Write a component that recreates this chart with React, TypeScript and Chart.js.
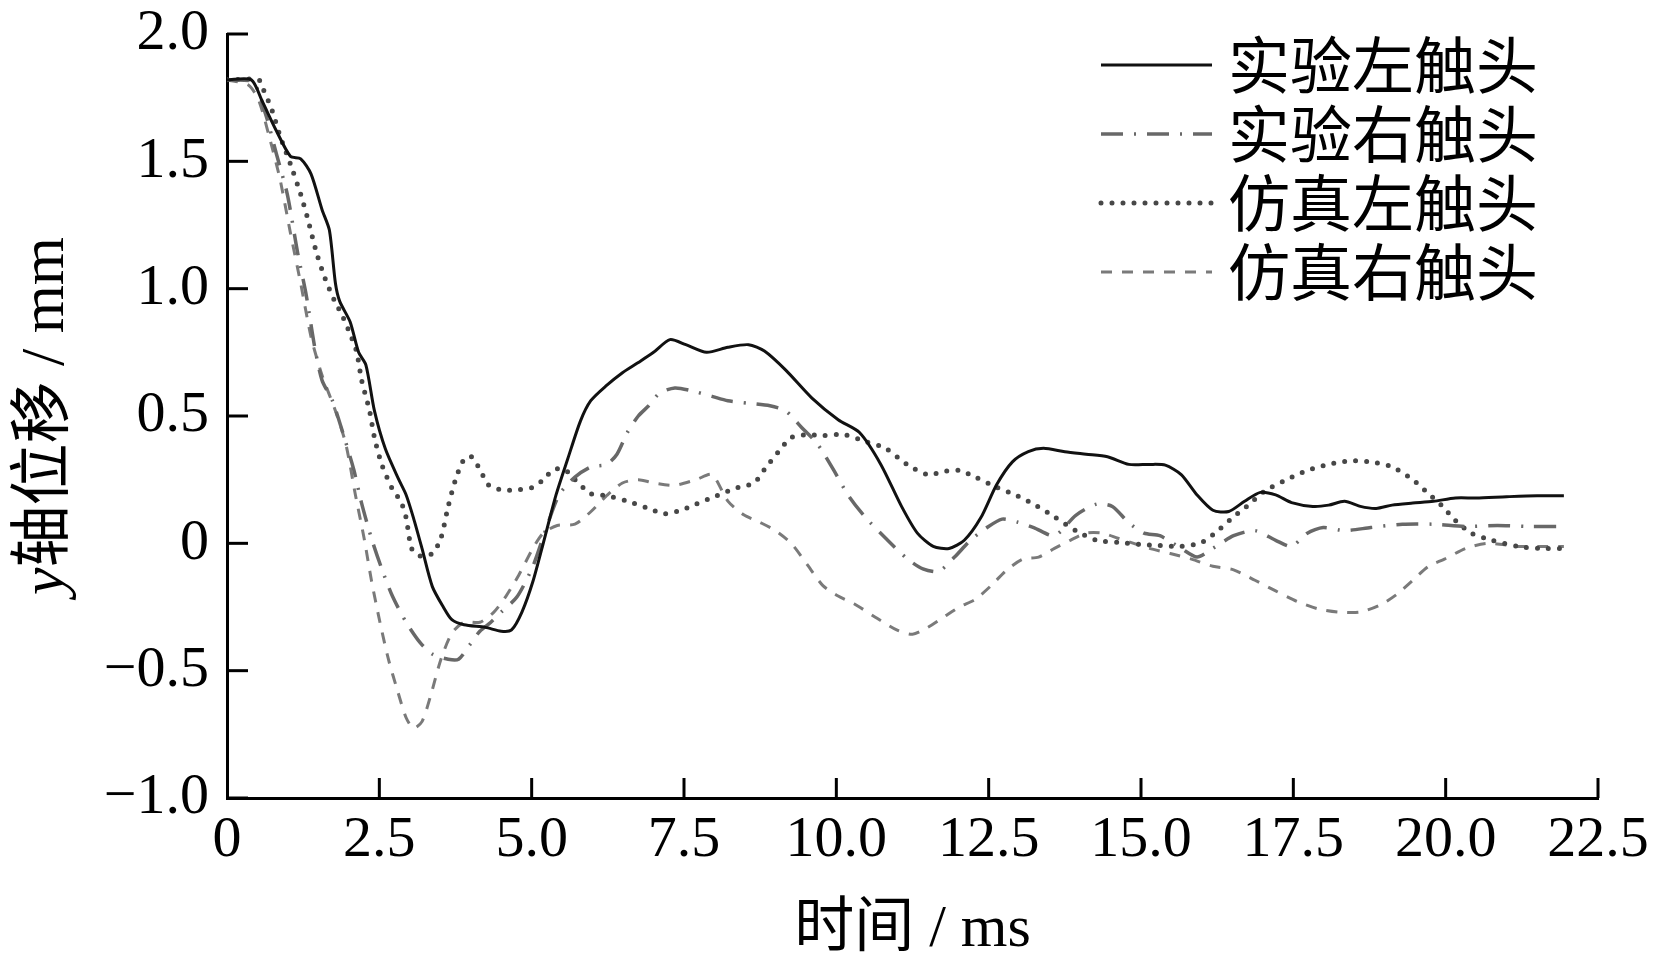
import React, { useEffect, useRef } from 'react';
import { Chart, registerables } from 'chart.js';
import type { ChartConfiguration, Plugin } from 'chart.js';

Chart.register(...registerables);

// 时间 (ms) / y轴位移 (mm)
const seriesLabels = ['实验左触头', '实验右触头', '仿真左触头', '仿真右触头'];

const expLeftT = [0, 0.4, 0.57, 0.81, 1.04, 1.21, 1.38, 1.56, 1.68, 1.78, 1.85, 2.02, 2.16, 2.28, 2.42, 2.6, 2.82, 2.94, 3.06, 3.2, 3.37, 3.55, 3.69, 3.89, 4.24, 4.5, 4.67, 4.84, 5.02, 5.19, 5.4, 5.59, 5.8, 5.97, 6.23, 6.49, 6.75, 7.0, 7.27, 7.53, 7.87, 8.22, 8.56, 8.82, 9.17, 9.6, 10.03, 10.38, 10.73, 11.07, 11.33, 11.59, 11.85, 12.1, 12.37, 12.63, 12.89, 13.15, 13.4, 13.75, 14.1, 14.45, 14.8, 15.14, 15.4, 15.66, 15.92, 16.18, 16.44, 16.7, 16.96, 17.21, 17.47, 17.82, 18.08, 18.34, 18.6, 18.86, 19.12, 19.46, 19.8, 20.16, 20.5, 21.0, 21.5, 21.94];
const expLeftY = [1.82, 1.82, 1.74, 1.62, 1.52, 1.51, 1.45, 1.31, 1.23, 1.02, 0.95, 0.87, 0.75, 0.7, 0.52, 0.37, 0.25, 0.19, 0.1, -0.02, -0.17, -0.25, -0.3, -0.32, -0.33, -0.345, -0.34, -0.27, -0.15, 0, 0.19, 0.33, 0.48, 0.56, 0.62, 0.67, 0.71, 0.75, 0.8, 0.78, 0.75, 0.77, 0.78, 0.755, 0.68, 0.57, 0.485, 0.435, 0.31, 0.145, 0.04, -0.012, -0.02, 0.012, 0.1, 0.23, 0.32, 0.36, 0.373, 0.36, 0.35, 0.34, 0.31, 0.31, 0.307, 0.27, 0.19, 0.13, 0.125, 0.165, 0.2, 0.19, 0.16, 0.145, 0.15, 0.165, 0.145, 0.137, 0.15, 0.158, 0.165, 0.178, 0.178, 0.183, 0.187, 0.187];

const expRightT = [0, 0.43, 0.64, 0.81, 0.99, 1.16, 1.3, 1.44, 1.56, 1.73, 1.9, 2.08, 2.2, 2.37, 2.54, 2.72, 2.94, 3.17, 3.37, 3.63, 3.8, 3.98, 4.15, 4.33, 4.5, 4.76, 5.02, 5.24, 5.45, 5.71, 5.97, 6.23, 6.4, 6.57, 6.75, 6.92, 7.1, 7.35, 7.61, 7.96, 8.22, 8.56, 8.91, 9.17, 9.43, 9.69, 9.95, 10.2, 10.47, 10.81, 11.16, 11.42, 11.68, 11.94, 12.2, 12.46, 12.72, 12.98, 13.24, 13.58, 13.93, 14.27, 14.53, 14.79, 15.05, 15.31, 15.66, 15.92, 16.18, 16.52, 16.87, 17.21, 17.47, 17.73, 17.99, 18.34, 18.77, 19.29, 19.8, 20.33, 20.85, 21.37, 21.94];
const expRightY = [1.82, 1.81, 1.68, 1.53, 1.37, 1.14, 0.975, 0.77, 0.64, 0.56, 0.435, 0.29, 0.166, 0.02, -0.1, -0.21, -0.31, -0.39, -0.435, -0.455, -0.455, -0.4, -0.345, -0.31, -0.27, -0.21, -0.09, 0.06, 0.19, 0.26, 0.3, 0.31, 0.35, 0.435, 0.5, 0.54, 0.59, 0.61, 0.6, 0.577, 0.56, 0.55, 0.54, 0.52, 0.455, 0.39, 0.29, 0.187, 0.104, 0.02, -0.06, -0.1, -0.11, -0.054, 0.012, 0.06, 0.095, 0.083, 0.062, 0.03, 0.11, 0.154, 0.145, 0.083, 0.04, 0.03, -0.02, -0.054, -0.02, 0.03, 0.05, 0.012, -0.012, 0.04, 0.062, 0.05, 0.062, 0.075, 0.075, 0.066, 0.07, 0.066, 0.066];

const simLeftT = [0, 0.52, 0.6, 0.74, 0.87, 1.04, 1.21, 1.33, 1.47, 1.61, 1.76, 1.9, 2.04, 2.13, 2.21, 2.34, 2.42, 2.54, 2.72, 2.85, 2.94, 3.03, 3.17, 3.37, 3.51, 3.63, 3.75, 3.89, 4.01, 4.15, 4.29, 4.5, 4.76, 5.02, 5.19, 5.36, 5.54, 5.71, 5.97, 6.23, 6.57, 6.92, 7.18, 7.44, 7.7, 8.04, 8.39, 8.65, 8.82, 9.05, 9.26, 9.52, 9.78, 10.12, 10.47, 10.81, 11.16, 11.5, 11.76, 12.02, 12.28, 12.63, 12.89, 13.24, 13.58, 13.93, 14.27, 14.62, 14.97, 15.31, 15.66, 16.0, 16.26, 16.52, 16.78, 17.04, 17.39, 17.73, 18.08, 18.43, 18.77, 19.12, 19.46, 19.72, 19.95, 20.16, 20.42, 20.76, 21.19, 21.54, 21.94];
const simLeftY = [1.82, 1.82, 1.78, 1.7, 1.6, 1.49, 1.37, 1.27, 1.14, 1.04, 0.955, 0.89, 0.81, 0.75, 0.64, 0.52, 0.415, 0.31, 0.21, 0.166, 0.1, -0.02, -0.05, -0.04, 0.02, 0.145, 0.25, 0.33, 0.34, 0.29, 0.23, 0.21, 0.21, 0.22, 0.25, 0.29, 0.29, 0.25, 0.195, 0.187, 0.166, 0.137, 0.116, 0.129, 0.154, 0.187, 0.22, 0.237, 0.29, 0.36, 0.415, 0.427, 0.423, 0.427, 0.4, 0.373, 0.31, 0.27, 0.282, 0.286, 0.26, 0.22, 0.195, 0.154, 0.104, 0.05, 0.012, 0.004, -0.004, -0.008, -0.012, 0.004, 0.05, 0.104, 0.154, 0.207, 0.25, 0.286, 0.31, 0.324, 0.32, 0.3, 0.25, 0.195, 0.145, 0.09, 0.04, 0.012, -0.012, -0.02, -0.02];

const simRightT = [0, 0.35, 0.52, 0.69, 0.87, 1.04, 1.21, 1.38, 1.56, 1.78, 1.95, 2.11, 2.25, 2.37, 2.51, 2.65, 2.8, 2.94, 3.06, 3.2, 3.34, 3.51, 3.69, 3.89, 4.15, 4.38, 4.58, 4.79, 5.02, 5.19, 5.42, 5.71, 5.97, 6.23, 6.49, 6.75, 7.0, 7.35, 7.7, 7.96, 8.22, 8.48, 8.74, 9.0, 9.26, 9.52, 9.78, 10.03, 10.29, 10.64, 10.99, 11.25, 11.5, 11.76, 12.02, 12.28, 12.54, 12.8, 13.06, 13.32, 13.58, 13.84, 14.1, 14.36, 14.62, 14.88, 15.14, 15.48, 15.83, 16.18, 16.52, 16.87, 17.21, 17.56, 17.9, 18.25, 18.6, 18.94, 19.2, 19.46, 19.72, 19.98, 20.33, 20.68, 21.19, 21.54, 21.94];
const simRightY = [1.82, 1.8, 1.74, 1.6, 1.43, 1.22, 1.02, 0.81, 0.66, 0.52, 0.39, 0.187, 0.02, -0.145, -0.31, -0.456, -0.58, -0.685, -0.726, -0.7, -0.6, -0.456, -0.353, -0.31, -0.31, -0.27, -0.207, -0.124, -0.02, 0.04, 0.07, 0.075, 0.124, 0.187, 0.237, 0.25, 0.237, 0.228, 0.25, 0.27, 0.166, 0.112, 0.083, 0.05, 0.0, -0.083, -0.166, -0.207, -0.237, -0.29, -0.34, -0.357, -0.33, -0.29, -0.25, -0.22, -0.166, -0.104, -0.062, -0.054, -0.02, 0.012, 0.04, 0.04, 0.02, 0.0, -0.02, -0.04, -0.062, -0.09, -0.104, -0.145, -0.187, -0.228, -0.257, -0.27, -0.27, -0.24, -0.2, -0.145, -0.09, -0.062, -0.02, 0.0, -0.012, -0.012, -0.012];

const SERIF = '"Liberation Serif", "Times New Roman", serif';
const MIXED = '"Liberation Serif", "Noto Sans CJK SC", serif';
const CJK = '"Noto Sans CJK SC", sans-serif';

const lineStyles = [
  { color: '#111111', dash: [] as number[], width: 3, cap: 'butt' as CanvasLineCap },
  { color: '#686868', dash: [22, 11, 2, 11], width: 3.5, cap: 'butt' as CanvasLineCap },
  { color: '#474747', dash: [0, 11], width: 5, cap: 'round' as CanvasLineCap },
  { color: '#7a7a7a', dash: [11, 10], width: 3, cap: 'butt' as CanvasLineCap },
];

const seriesT = [expLeftT, expRightT, simLeftT, simRightT];
const seriesY = [expLeftY, expRightY, simLeftY, simRightY];

const fmt = (v: number) => (v === 0 ? '0' : (v < 0 ? '\u2212' : '') + Math.abs(v).toFixed(1));

// inward ticks, axis titles and the legend box in the upper right
const decorPlugin: Plugin<'line'> = {
  id: 'decor',
  afterDraw(chart) {
    const { ctx, chartArea } = chart;
    const xs = chart.scales.x;
    const ys = chart.scales.y;
    ctx.save();
    ctx.strokeStyle = '#000';
    ctx.lineWidth = 3;
    ys.ticks.forEach((t) => {
      const py = ys.getPixelForValue(t.value);
      ctx.beginPath();
      ctx.moveTo(chartArea.left, py);
      ctx.lineTo(chartArea.left + 21, py);
      ctx.stroke();
    });
    xs.ticks.forEach((t) => {
      if (t.value === 0) return;
      const px = xs.getPixelForValue(t.value);
      ctx.beginPath();
      ctx.moveTo(px, chartArea.bottom);
      ctx.lineTo(px, chartArea.bottom - 20);
      ctx.stroke();
    });

    ctx.fillStyle = '#000';
    ctx.textBaseline = 'alphabetic';
    ctx.textAlign = 'center';
    ctx.font = `60px ${MIXED}`;
    ctx.fillText('时间 / ms', (chartArea.left + chartArea.right) / 2, 946);

    // y title with italic y
    const parts = [
      { text: 'y', font: `italic 62px ${SERIF}` },
      { text: '轴位移', font: `62px ${CJK}` },
      { text: ' / mm', font: `62px ${SERIF}` },
    ];
    let total = 0;
    const widths = parts.map((p) => {
      ctx.font = p.font;
      const w = ctx.measureText(p.text).width;
      total += w;
      return w;
    });
    ctx.save();
    ctx.translate(63, (chartArea.top + chartArea.bottom) / 2);
    ctx.rotate(-Math.PI / 2);
    ctx.textAlign = 'left';
    let cx = -total / 2;
    parts.forEach((p, i) => {
      ctx.font = p.font;
      ctx.fillText(p.text, cx, 0);
      cx += widths[i];
    });
    ctx.restore();

    // legend
    chart.data.datasets.forEach((ds: any, i) => {
      const y = 65 + i * 69;
      ctx.save();
      ctx.strokeStyle = ds.borderColor;
      ctx.lineWidth = ds.borderWidth;
      ctx.lineCap = ds.borderCapStyle;
      ctx.setLineDash(ds.borderDash);
      ctx.beginPath();
      ctx.moveTo(1101, y);
      ctx.lineTo(1212, y);
      ctx.stroke();
      ctx.restore();
      ctx.fillStyle = '#000';
      ctx.font = `62px ${CJK}`;
      ctx.textAlign = 'left';
      ctx.textBaseline = 'middle';
      ctx.fillText(ds.label, 1228, y);
    });
    ctx.restore();
  },
};

const App: React.FC = () => {
  const canvasRef = useRef<HTMLCanvasElement | null>(null);
  const chartRef = useRef<Chart<'line', { x: number; y: number }[], unknown> | null>(null);

  useEffect(() => {
    const canvas = canvasRef.current;
    if (!canvas) return;
    const ctx = canvas.getContext('2d');
    if (!ctx) return;

    const datasets = seriesLabels.map((label, i) => ({
      label,
      data: seriesT[i].map((t, k) => ({ x: t, y: seriesY[i][k] })),
      borderColor: lineStyles[i].color,
      backgroundColor: lineStyles[i].color,
      borderWidth: lineStyles[i].width,
      borderDash: lineStyles[i].dash,
      borderCapStyle: lineStyles[i].cap,
      borderJoinStyle: 'round' as CanvasLineJoin,
      pointRadius: 0,
      tension: 0.25,
      fill: false,
    }));

    const tickFont = { family: SERIF, size: 58, lineHeight: 1 };

    const config: ChartConfiguration<'line', { x: number; y: number }[], unknown> = {
      type: 'line',
      data: { datasets },
      options: {
        animation: false,
        responsive: true,
        maintainAspectRatio: false,
        layout: { padding: { top: 34, right: 55, left: 0, bottom: 0 } },
        plugins: { legend: { display: false }, tooltip: { enabled: false } },
        scales: {
          x: {
            type: 'linear',
            min: 0,
            max: 22.5,
            ticks: { stepSize: 2.5, font: tickFont, color: '#000', padding: 14, maxRotation: 0, autoSkip: false, callback: (v) => fmt(Number(v)) },
            grid: { display: false, drawTicks: false },
            border: { display: true, color: '#000', width: 3 },
            afterFit: (s: any) => {
              s.height = 173;
              s.paddingLeft = 0;
              s.paddingRight = 0;
            },
          },
          y: {
            type: 'linear',
            min: -1,
            max: 2,
            ticks: { stepSize: 0.5, font: tickFont, color: '#000', padding: 18, autoSkip: false, callback: (v) => fmt(Number(v)) },
            grid: { display: false, drawTicks: false },
            border: { display: true, color: '#000', width: 3 },
            afterFit: (s: any) => {
              s.width = 227;
              s.paddingTop = 0;
              s.paddingBottom = 0;
            },
          },
        },
      },
      plugins: [decorPlugin],
    };

    chartRef.current = new Chart(ctx, config);
    return () => chartRef.current?.destroy();
  }, []);

  return (
    <div style={{ position: 'fixed', left: 0, top: 0, width: 1653, height: 971, background: '#fff' }}>
      <canvas ref={canvasRef} />
    </div>
  );
};

export default App;
